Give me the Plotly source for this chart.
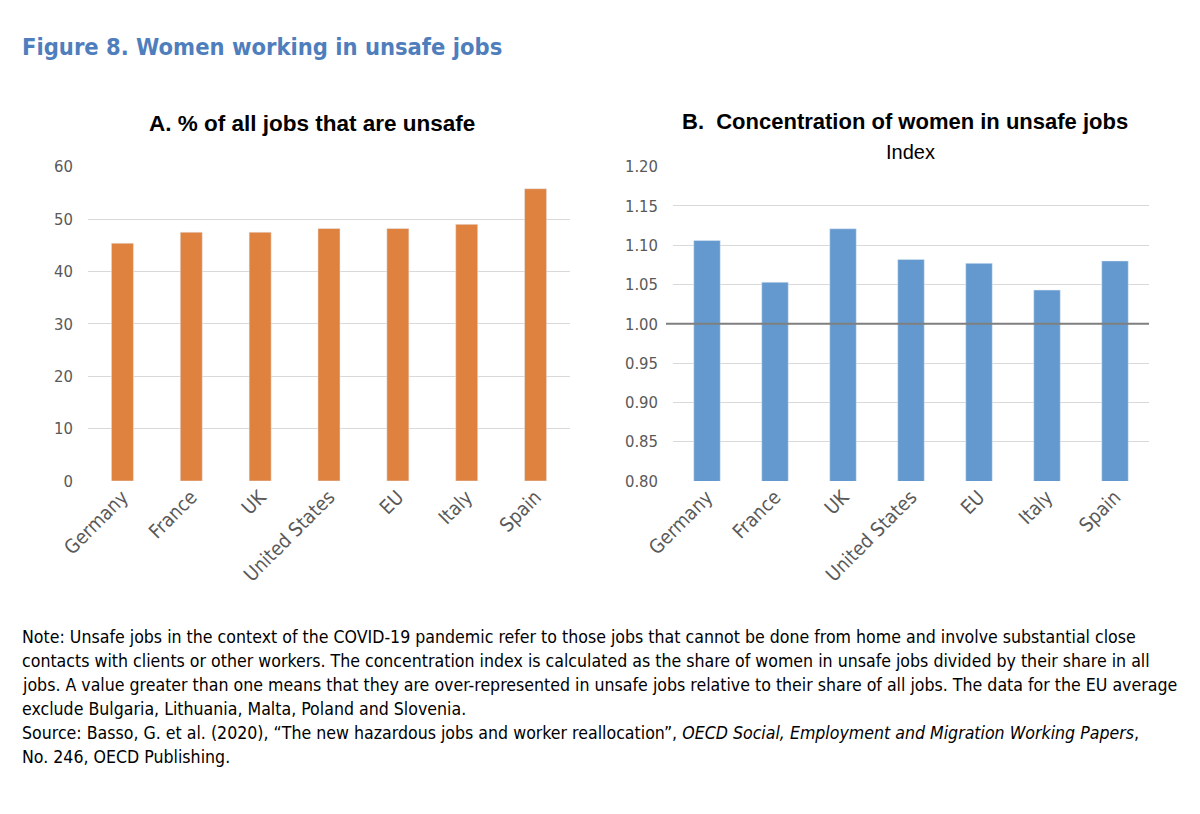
import plotly.graph_objects as go

countries = ["Germany", "France", "UK", "United States", "EU", "Italy", "Spain"]
unsafe_share = [45.4, 47.5, 47.5, 48.2, 48.2, 49.0, 55.8]
concentration = [1.106, 1.053, 1.121, 1.082, 1.077, 1.043, 1.080]

title_text = "Figure 8. Women working in unsafe jobs"
panel_a_title = "A. % of all jobs that are unsafe"
panel_b_title = "B.  Concentration of women in unsafe jobs"
panel_b_sub = "Index"
note_lines = [
    "Note: Unsafe jobs in the context of the COVID-19 pandemic refer to those jobs that cannot be done from home and involve substantial close",
    "contacts with clients or other workers. The concentration index is calculated as the share of women in unsafe jobs divided by their share in all",
    "jobs. A value greater than one means that they are over-represented in unsafe jobs relative to their share of all jobs. The data for the EU average",
    "exclude Bulgaria, Lithuania, Malta, Poland and Slovenia.",
    "Source: Basso, G. et al. (2020), \u201cThe new hazardous jobs and worker reallocation\u201d, <i>OECD Social, Employment and Migration Working Papers</i>,",
    "No. 246, OECD Publishing.",
]

W, H = 1200, 814
NARROW = "DejaVu Sans Condensed, Liberation Sans Narrow, Arial Narrow, Liberation Sans, Arial, sans-serif"
SANS = "Liberation Sans, Arial, sans-serif"
YTICK = dict(family=NARROW, size=16.5, color="#595959")
XTICK = dict(family=NARROW, size=19.5, color="#595959")

fig = go.Figure()
fig.add_trace(go.Bar(x=countries, y=unsafe_share, marker_color="#E0823F", width=0.32,
                     xaxis="x", yaxis="y", showlegend=False, hoverinfo="skip"))
fig.add_trace(go.Bar(x=countries, y=concentration, marker_color="#6399CF", width=0.39,
                     xaxis="x2", yaxis="y2", showlegend=False, hoverinfo="skip"))

ydom = [(H - 481) / H, (H - 166.7) / H]
fig.update_layout(
    width=W, height=H, margin=dict(l=0, r=0, t=0, b=0, autoexpand=False),
    paper_bgcolor="white", plot_bgcolor="white",
    xaxis=dict(domain=[88 / W, 570 / W], anchor="y", tickangle=-45, tickfont=XTICK,
               showgrid=False, showline=False, ticks="", automargin=False),
    yaxis=dict(domain=ydom, anchor="x", range=[0, 60], dtick=10, tickfont=YTICK,
               gridcolor="#D9D9D9", gridwidth=1, zeroline=False, showline=False, ticks="",
               ticklabelstandoff=14, automargin=False),
    xaxis2=dict(domain=[673 / W, 1149 / W], anchor="y2", tickangle=-45, tickfont=XTICK,
                showgrid=False, showline=False, ticks="", automargin=False),
    yaxis2=dict(domain=ydom, anchor="x2", range=[0.8, 1.2], dtick=0.05, tickformat=".2f",
                tickfont=YTICK, gridcolor="#D9D9D9", gridwidth=1, zeroline=False,
                showline=False, ticks="", ticklabelstandoff=14, automargin=False),
)

fig.add_shape(type="line", xref="paper", yref="y2", x0=666 / W, x1=1149 / W, y0=1.0, y1=1.0,
              line=dict(color="#7F7F7F", width=2))

def ann(text, x, y, size, color="black", bold=False, family=SANS, xanchor="left"):
    fig.add_annotation(text=("<b>%s</b>" % text) if bold else text, xref="paper", yref="paper",
                       x=x / W, y=1 - y / H, xanchor=xanchor, yanchor="middle",
                       showarrow=False, font=dict(family=family, size=size, color=color))

ann(title_text, 20, 47, 23.5, color="#4F7EBD", bold=True, family=NARROW)
ann(panel_a_title, 312, 123, 22.5, bold=True, xanchor="center")
ann(panel_b_title, 905, 122, 22, bold=True, xanchor="center")
ann(panel_b_sub, 910, 152, 20, xanchor="center")
for i, line in enumerate(note_lines):
    ann(line, 20, 637 + 24 * i, 17.6, family=NARROW)

fig.write_html(
    "out.html",
    config={"displayModeBar": False},
    post_script="document.body.style.margin='0';document.body.style.overflow='hidden';",
)
